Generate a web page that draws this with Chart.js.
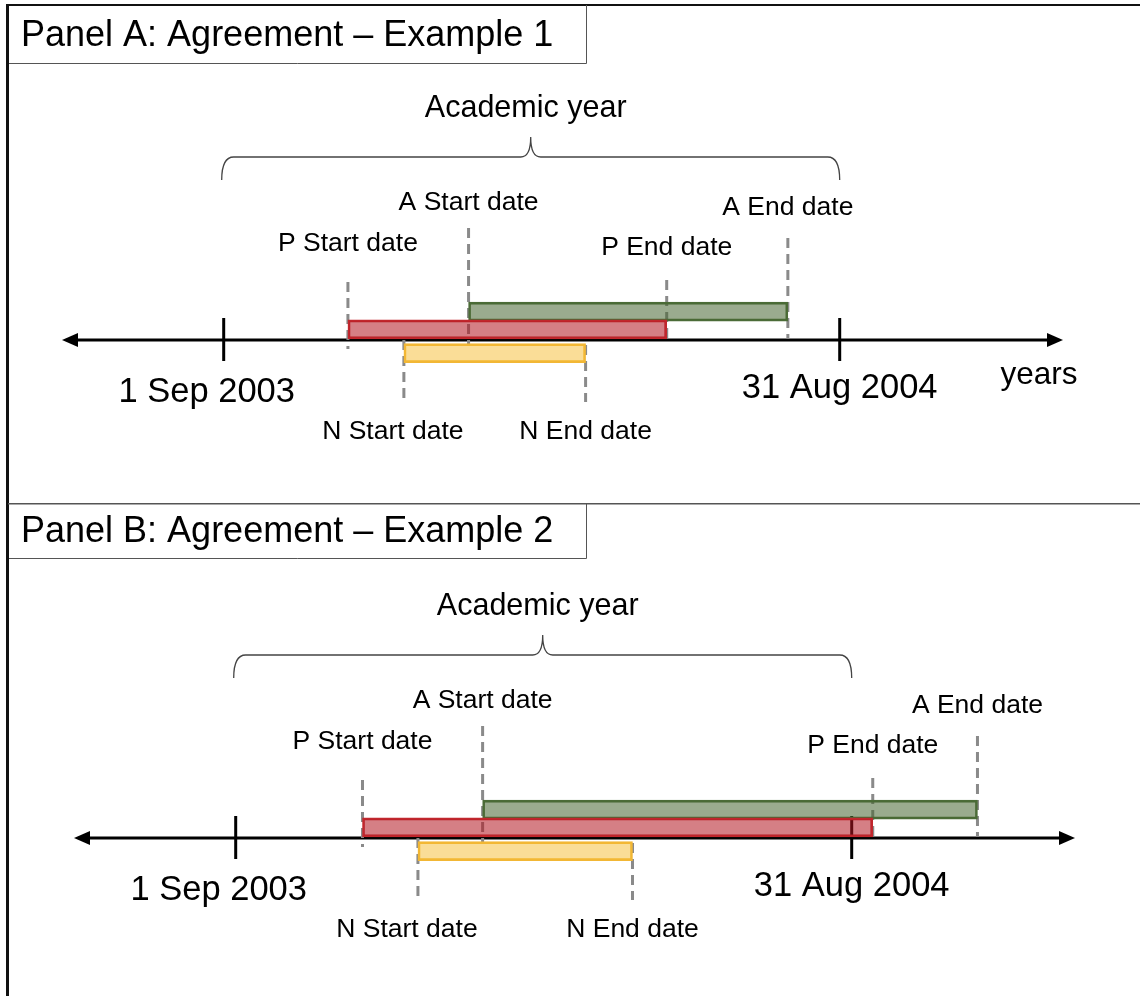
<!DOCTYPE html>
<html>
<head>
<meta charset="utf-8">
<script src="https://cdn.jsdelivr.net/npm/chart.js@4.4.0/dist/chart.umd.min.js"></script>
<style>
  html, body { margin: 0; padding: 0; background: #fff; }
  canvas { display: block; }
</style>
</head>
<body>
<canvas id="panelA" width="1140" height="503"></canvas>
<canvas id="panelB" width="1140" height="493"></canvas>
<script>
// time in months after 1 Sep 2003 (12 = 31 Aug 2004)
const periodNames = ["A", "P", "N"];
const laneValues = [1.6, 0.6, -0.74];
const panelAStart = [4.77, 2.42, 3.51];
const panelAEnd = [10.99, 8.63, 7.05];
const panelBStart = [4.81, 2.47, 3.55];
const panelBEnd = [14.45, 12.41, 7.73];
const tickValues = [0, 12];
const tickLabels = ["1 Sep 2003", "31 Aug 2004"];
const braceLabel = "Academic year";
const axisLabel = "years";

const fillColors = ["rgba(71,102,50,0.55)", "rgba(179,22,33,0.55)", "rgba(245,187,47,0.5)"];
const borderColors = ["#4b6b37", "#c1272d", "#f2b735"];
const FONT = "'Liberation Sans', Arial, sans-serif";

// offsets from the time line (px): dash top, dash bottom, label y, label dx
const markerStyle = {
  A: { start: [-112, 6, -137, 0], end: [-102, -1, -132, 0] },
  P: { start: [-58, 9, -96, 0], end: [-60, -1, -92, 0] },
  N: { start: [0, 62, 92, -11], end: [5, 62, 92, 0] },
};

function diagramPlugin(panel) {
  return {
    id: "diagram" + panel.key,
    beforeDatasetsDraw(chart) {
      const ctx = chart.ctx;
      const xs = chart.scales.x;
      const ys = chart.scales.y;
      const y0 = ys.getPixelForValue(0);
      const W = chart.width, H = chart.height;
      ctx.save();

      // frame
      ctx.strokeStyle = "#111";
      ctx.lineWidth = 3;
      ctx.beginPath();
      ctx.moveTo(7.5, panel.frameTop);
      ctx.lineTo(7.5, H);
      ctx.stroke();
      if (panel.key === "A") {
        ctx.lineWidth = 2;
        ctx.beginPath();
        ctx.moveTo(6, 5);
        ctx.lineTo(W, 5);
        ctx.stroke();
      } else {
        ctx.strokeStyle = "#555";
        ctx.lineWidth = 1.5;
        ctx.beginPath();
        ctx.moveTo(8, 0.75);
        ctx.lineTo(W, 0.75);
        ctx.stroke();
      }
      // title box
      ctx.strokeStyle = "#555";
      ctx.lineWidth = 1;
      ctx.beginPath();
      ctx.moveTo(9, panel.boxBottom + 0.5);
      ctx.lineTo(586.5, panel.boxBottom + 0.5);
      ctx.lineTo(586.5, panel.frameTop);
      ctx.stroke();
      ctx.fillStyle = "#000";
      ctx.font = "36px " + FONT;
      ctx.textAlign = "left";
      ctx.textBaseline = "middle";
      ctx.fillText(panel.title, 21, (panel.frameTop + panel.boxBottom) / 2 + 2);

      // time line with arrows
      const xl = xs.left, xr = xs.right;
      ctx.strokeStyle = "#000";
      ctx.fillStyle = "#000";
      ctx.lineWidth = 3;
      ctx.beginPath();
      ctx.moveTo(xl + 10, y0);
      ctx.lineTo(xr - 10, y0);
      ctx.stroke();
      ctx.beginPath();
      ctx.moveTo(xl, y0);
      ctx.lineTo(xl + 16, y0 - 7);
      ctx.lineTo(xl + 16, y0 + 7);
      ctx.closePath();
      ctx.fill();
      ctx.beginPath();
      ctx.moveTo(xr, y0);
      ctx.lineTo(xr - 16, y0 - 7);
      ctx.lineTo(xr - 16, y0 + 7);
      ctx.closePath();
      ctx.fill();

      // ticks
      tickValues.forEach((v) => {
        const px = xs.getPixelForValue(v);
        ctx.beginPath();
        ctx.moveTo(px, y0 - 22);
        ctx.lineTo(px, y0 + 21);
        ctx.stroke();
      });

      // dashed date markers
      ctx.strokeStyle = "#8a8a8a";
      ctx.lineWidth = 3;
      ctx.setLineDash([10, 6]);
      periodNames.forEach((name, i) => {
        [["start", panel.start[i]], ["end", panel.end[i]]].forEach(([kind, v]) => {
          const s = markerStyle[name][kind];
          const px = xs.getPixelForValue(v);
          ctx.beginPath();
          ctx.moveTo(px, y0 + s[0]);
          ctx.lineTo(px, y0 + s[1]);
          ctx.stroke();
        });
      });
      ctx.setLineDash([]);

      // brace over the academic year
      const bx0 = xs.getPixelForValue(tickValues[0]) - 2;
      const bx1 = xs.getPixelForValue(tickValues[1]);
      const bm = (bx0 + bx1) / 2;
      const yl = y0 - 183, ye = y0 - 160, yp = y0 - 203;
      ctx.strokeStyle = "#444";
      ctx.lineWidth = 1.3;
      ctx.beginPath();
      ctx.moveTo(bx0, ye);
      ctx.quadraticCurveTo(bx0, yl, bx0 + 12, yl);
      ctx.lineTo(bm - 10, yl);
      ctx.quadraticCurveTo(bm, yl, bm, yp);
      ctx.quadraticCurveTo(bm, yl, bm + 10, yl);
      ctx.lineTo(bx1 - 12, yl);
      ctx.quadraticCurveTo(bx1, yl, bx1, ye);
      ctx.stroke();
      ctx.restore();
    },
    afterDatasetsDraw(chart) {
      const ctx = chart.ctx;
      const xs = chart.scales.x;
      const y0 = chart.scales.y.getPixelForValue(0);
      ctx.save();
      ctx.fillStyle = "#000";
      ctx.textAlign = "center";
      ctx.textBaseline = "middle";

      const bx0 = xs.getPixelForValue(tickValues[0]);
      const bx1 = xs.getPixelForValue(tickValues[1]);
      ctx.font = "30.5px " + FONT;
      ctx.fillText(braceLabel, (bx0 + bx1) / 2 - 6, y0 - 231);

      ctx.font = "34.5px " + FONT;
      ctx.fillText(tickLabels[0], xs.getPixelForValue(tickValues[0]) - 17, y0 + 52);
      ctx.fillText(tickLabels[1], xs.getPixelForValue(tickValues[1]), y0 + 48);

      if (panel.showAxisLabel) {
        ctx.font = "31.5px " + FONT;
        ctx.fillText(axisLabel, xs.right - 24, y0 + 35);
      }

      ctx.font = "26.5px " + FONT;
      periodNames.forEach((name, i) => {
        [["start", panel.start[i], "Start"], ["end", panel.end[i], "End"]].forEach(([kind, v, word]) => {
          const s = markerStyle[name][kind];
          ctx.fillText(name + " " + word + " date", xs.getPixelForValue(v) + s[3], y0 + s[2]);
        });
      });
      ctx.restore();
    },
  };
}

function makePanel(canvasId, panel) {
  const data = periodNames.map((name, i) => ({ y: laneValues[i], x: [panel.start[i], panel.end[i]] }));
  return new Chart(document.getElementById(canvasId), {
    type: "bar",
    data: {
      labels: periodNames,
      datasets: [
        {
          data: data,
          backgroundColor: fillColors,
          borderColor: borderColors,
          borderWidth: 2,
          borderSkipped: false,
          barThickness: 19,
        },
      ],
    },
    options: {
      indexAxis: "y",
      responsive: false,
      animation: false,
      events: [],
      layout: { padding: panel.padding },
      plugins: { legend: { display: false }, tooltip: { enabled: false } },
      scales: {
        x: { type: "linear", min: -3.15, max: 16.35, display: false },
        y: { type: "linear", min: -7, max: 7, display: false },
      },
    },
    plugins: [diagramPlugin(panel)],
  });
}

makePanel("panelA", {
  key: "A",
  title: "Panel A: Agreement \u2013 Example 1",
  start: panelAStart,
  end: panelAEnd,
  frameTop: 5,
  boxBottom: 63,
  showAxisLabel: true,
  padding: { left: 62, right: 77, top: 200, bottom: 23 },
});

makePanel("panelB", {
  key: "B",
  title: "Panel B: Agreement \u2013 Example 2",
  start: panelBStart,
  end: panelBEnd,
  frameTop: 0,
  boxBottom: 55,
  showAxisLabel: false,
  padding: { left: 74, right: 65, top: 195, bottom: 18 },
});
</script>
</body>
</html>
